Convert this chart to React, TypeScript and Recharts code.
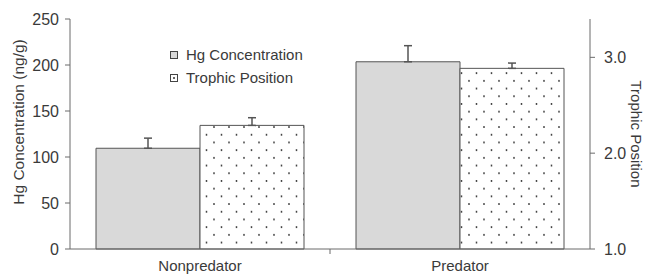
import { BarChart, Bar, XAxis, YAxis, ErrorBar, Legend } from 'recharts'

const categories = ['Nonpredator', 'Predator']
const hgValues = [109.5, 203.5]
const hgErrors = [11, 17.5]
const tpValues = [2.29, 2.885]
const tpErrors = [0.08, 0.055]
const hgTicks = [0, 50, 100, 150, 200, 250]
const tpTicks = [1, 2, 3]

const FONT = '"Liberation Sans", Arial, sans-serif'
const TEXT = '#3a3a3a'
const LINE = '#6b6b6b'

const data = categories.map((name, i) => ({
  name,
  hg: hgValues[i],
  hgErr: [0, hgErrors[i]],
  tp: tpValues[i],
  tpErr: [0, tpErrors[i]],
}))

function CategoryTick(props: any) {
  const { x, y, payload, index } = props
  const half = payload?.offset ?? 130
  return (
    <g>
      <text x={x} y={y + 14} textAnchor="middle" fontSize={15} fontFamily={FONT} fill={TEXT}>
        {payload.value}
      </text>
      {index === 0 && <line x1={x + half} y1={249} x2={x + half} y2={254} stroke={LINE} />}
    </g>
  )
}

function LegendBox() {
  const items = [
    { label: 'Hg Concentration', dot: false },
    { label: 'Trophic Position', dot: true },
  ]
  return (
    <div style={{ fontFamily: FONT, fontSize: 15, color: TEXT, lineHeight: '23px' }}>
      {items.map((it) => (
        <div key={it.label} style={{ display: 'flex', alignItems: 'center' }}>
          <svg width={8} height={8} style={{ marginRight: 8 }}>
            <rect x={0.5} y={0.5} width={7} height={7} fill={it.dot ? '#fff' : '#d9d9d9'} stroke="#444" />
            {it.dot && <circle cx={4} cy={4} r={1} fill="#333" />}
          </svg>
          <span>{it.label}</span>
        </div>
      ))}
    </div>
  )
}

export default function App() {
  return (
    <div style={{ position: 'absolute', left: 0, top: 0, background: '#fff' }}>
      <BarChart
        width={645}
        height={276}
        data={data}
        margin={{ top: 19, right: 0, bottom: 0, left: 0 }}
        barCategoryGap="10%"
        barGap={0}
      >
        <defs>
          <pattern id="dots" patternUnits="userSpaceOnUse" width={15} height={15.4}>
            <rect width={15} height={15.4} fill="#fff" />
            <circle cx={4} cy={3.8} r={0.9} fill="#333" />
            <circle cx={11.5} cy={11.5} r={0.9} fill="#333" />
          </pattern>
        </defs>
        <XAxis
          dataKey="name"
          height={27}
          stroke={LINE}
          tickLine={false}
          tick={<CategoryTick />}
          interval={0}
        />
        <YAxis
          yAxisId="left"
          width={70}
          domain={[0, 250]}
          ticks={hgTicks}
          tickSize={5}
          tickMargin={6}
          stroke={LINE}
          tick={{ fontSize: 16, fontFamily: FONT, fill: TEXT }}
          label={{
            content: (p: any) => {
              const vb = p.viewBox
              const cx = 18
              const cy = vb.y + vb.height / 2 - 12
              return (
                <text
                  x={cx}
                  y={cy}
                  transform={`rotate(-90, ${cx}, ${cy})`}
                  textAnchor="middle"
                  dominantBaseline="central"
                  fontSize={15.5}
                  fontFamily={FONT}
                  fill={TEXT}
                >
                  Hg Concentration (ng/g)
                </text>
              )
            },
          }}
        />
        <YAxis
          yAxisId="right"
          orientation="right"
          width={55}
          domain={[1, 3.4]}
          ticks={tpTicks}
          tickFormatter={(v: number) => v.toFixed(1)}
          tickSize={5}
          tickMargin={9}
          stroke={LINE}
          tick={{ fontSize: 16, fontFamily: FONT, fill: TEXT }}
          label={{
            content: (p: any) => {
              const vb = p.viewBox
              const cx = 636
              const cy = vb.y + vb.height / 2
              return (
                <text
                  x={cx}
                  y={cy}
                  transform={`rotate(90, ${cx}, ${cy})`}
                  textAnchor="middle"
                  dominantBaseline="central"
                  fontSize={15}
                  fontFamily={FONT}
                  fill={TEXT}
                >
                  Trophic Position
                </text>
              )
            },
          }}
        />
        <Legend
          layout="vertical"
          align="center"
          verticalAlign="middle"
          content={<LegendBox />}
          wrapperStyle={{ left: 170, top: 43, width: 'auto' }}
        />
        <Bar yAxisId="left" dataKey="hg" fill="#d9d9d9" stroke="#555" isAnimationActive={false}>
          <ErrorBar dataKey="hgErr" direction="y" width={4} stroke="#555" strokeWidth={1.5} />
        </Bar>
        <Bar yAxisId="right" dataKey="tp" fill="url(#dots)" stroke="#555" isAnimationActive={false}>
          <ErrorBar dataKey="tpErr" direction="y" width={4} stroke="#555" strokeWidth={1.5} />
        </Bar>
      </BarChart>
    </div>
  )
}
